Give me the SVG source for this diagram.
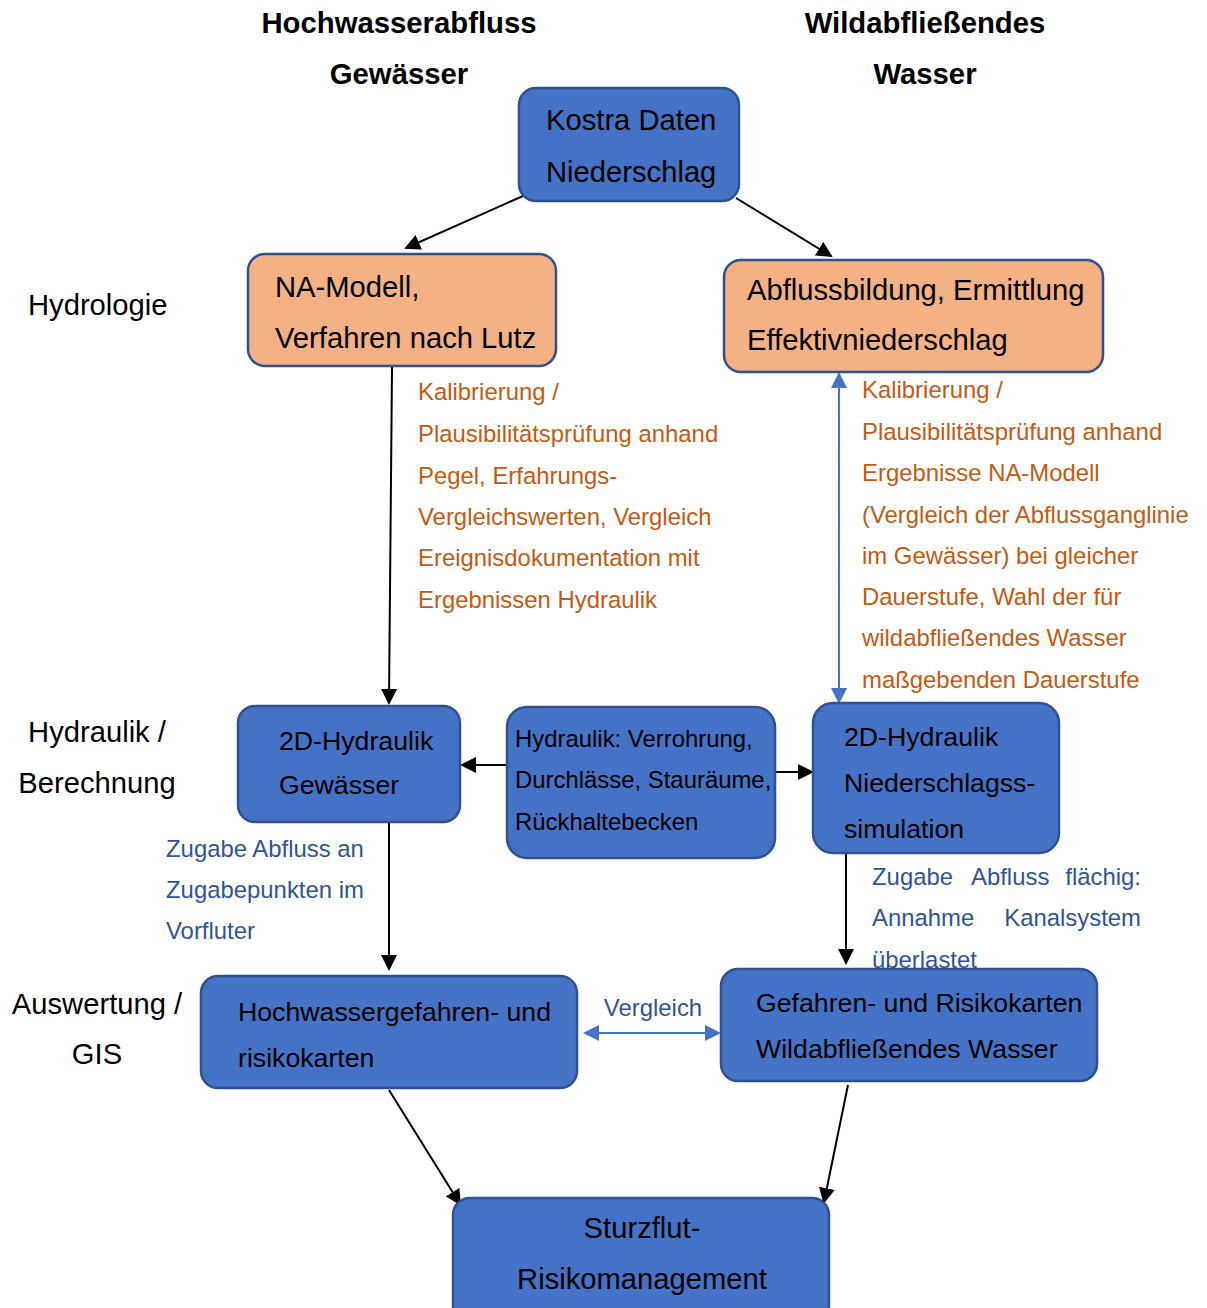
<svg xmlns="http://www.w3.org/2000/svg" width="1207" height="1308" viewBox="0 0 1207 1308">
<style>
text{font-family:"Liberation Sans",Arial,sans-serif;fill:#000}
.box{fill:#4472C4;stroke:#2F528F;stroke-width:2.5}
.obox{fill:#F4B183;stroke:#2F528F;stroke-width:2.5}
.big{font-size:29.2px}
.mid{font-size:26.7px}
.sm{font-size:23.9px}
.hdr{font-size:29.3px;font-weight:bold}
.or{fill:#C55A11;font-size:23.9px}
.bl{fill:#2F5597;font-size:23.9px}
.ln{stroke:#000;stroke-width:2;fill:none}
.bln{stroke:#4472C4;stroke-width:2;fill:none}
</style>
<defs>
<marker id="ah" markerWidth="8" markerHeight="8" refX="7" refY="4" orient="auto" markerUnits="strokeWidth"><path d="M0,0 L8,4 L0,8 Z" fill="#000"/></marker>
<marker id="bh" markerWidth="8" markerHeight="8" refX="7" refY="4" orient="auto-start-reverse" markerUnits="strokeWidth"><path d="M0,0 L8,4 L0,8 Z" fill="#4472C4"/></marker>
</defs>

<g id="labels">
<text class="hdr" x="399" y="33" text-anchor="middle">Hochwasserabfluss</text>
<text class="hdr" x="399" y="84" text-anchor="middle">Gewässer</text>
<text class="hdr" x="925" y="33" text-anchor="middle">Wildabfließendes</text>
<text class="hdr" x="925" y="84" text-anchor="middle">Wasser</text>
<text class="big" x="28" y="315">Hydrologie</text>
<text class="big" x="97" y="742" text-anchor="middle">Hydraulik /</text>
<text class="big" x="97" y="793" text-anchor="middle">Berechnung</text>
<text class="big" x="97" y="1014" text-anchor="middle">Auswertung /</text>
<text class="big" x="97" y="1064" text-anchor="middle">GIS</text>
</g>

<g id="connectors">
<line class="ln" x1="523" y1="196" x2="406" y2="248" marker-end="url(#ah)"/>
<line class="ln" x1="736" y1="198" x2="831" y2="256" marker-end="url(#ah)"/>
<line class="ln" x1="392" y1="367" x2="389" y2="703" marker-end="url(#ah)"/>
<line class="bln" x1="839" y1="374" x2="839" y2="702" marker-start="url(#bh)" marker-end="url(#bh)"/>
<line class="ln" x1="507" y1="765" x2="462" y2="765" marker-end="url(#ah)"/>
<line class="ln" x1="775" y1="772" x2="812" y2="772" marker-end="url(#ah)"/>
<line class="ln" x1="389" y1="823" x2="389" y2="969" marker-end="url(#ah)"/>
<line class="ln" x1="846" y1="854" x2="846" y2="963" marker-end="url(#ah)"/>
<line class="bln" x1="585" y1="1033" x2="719" y2="1033" marker-start="url(#bh)" marker-end="url(#bh)"/>
<line class="ln" x1="389" y1="1090" x2="460" y2="1204" marker-end="url(#ah)"/>
<line class="ln" x1="848" y1="1085" x2="824" y2="1202" marker-end="url(#ah)"/>
</g>

<g id="n-kostra">
<rect class="box" x="519" y="88" width="220" height="113" rx="17"/>
<text class="big" x="546" y="130">Kostra Daten</text>
<text class="big" x="546" y="182">Niederschlag</text>
</g>

<g id="n-na">
<rect class="obox" x="248" y="254" width="308" height="112" rx="17"/>
<text class="big" x="275" y="297">NA-Modell,</text>
<text class="big" x="275" y="348">Verfahren nach Lutz</text>
</g>

<g id="n-abfluss">
<rect class="obox" x="724" y="260" width="379" height="112" rx="17"/>
<text class="big" x="747" y="300">Abflussbildung, Ermittlung</text>
<text class="big" x="747" y="350">Effektivniederschlag</text>
</g>

<g id="t-kal-left">
<text class="or" x="418" y="400">Kalibrierung /</text>
<text class="or" x="418" y="442">Plausibilitätsprüfung anhand</text>
<text class="or" x="418" y="484">Pegel, Erfahrungs-</text>
<text class="or" x="418" y="525">Vergleichswerten, Vergleich</text>
<text class="or" x="418" y="566">Ereignisdokumentation mit</text>
<text class="or" x="418" y="608">Ergebnissen Hydraulik</text>
</g>

<g id="t-kal-right">
<text class="or" x="862" y="398">Kalibrierung /</text>
<text class="or" x="862" y="440">Plausibilitätsprüfung anhand</text>
<text class="or" x="862" y="481">Ergebnisse NA-Modell</text>
<text class="or" x="862" y="523">(Vergleich der Abflussganglinie</text>
<text class="or" x="862" y="564">im Gewässer) bei gleicher</text>
<text class="or" x="862" y="605">Dauerstufe, Wahl der für</text>
<text class="or" x="862" y="646">wildabfließendes Wasser</text>
<text class="or" x="862" y="688">maßgebenden Dauerstufe</text>
</g>

<g id="n-hyd-gew">
<rect class="box" x="238" y="706" width="222" height="116" rx="17"/>
<text class="mid" x="279" y="749.5">2D-Hydraulik</text>
<text class="mid" x="279" y="794">Gewässer</text>
</g>

<g id="n-hyd-mid">
<rect class="box" x="507" y="707" width="268" height="151" rx="20"/>
<text class="sm" x="515" y="746.5">Hydraulik: Verrohrung,</text>
<text class="sm" x="515" y="787.5">Durchlässe, Stauräume,</text>
<text class="sm" x="515" y="829.5">Rückhaltebecken</text>
</g>

<g id="n-hyd-ns">
<rect class="box" x="813" y="703" width="246" height="150" rx="20"/>
<text class="mid" x="844" y="745.5">2D-Hydraulik</text>
<text class="mid" x="844" y="791.5">Niederschlagss-</text>
<text class="mid" x="844" y="837.5">simulation</text>
</g>

<g id="t-zugabe-left">
<text class="bl" x="166" y="856.5">Zugabe Abfluss an</text>
<text class="bl" x="166" y="897.5">Zugabepunkten im</text>
<text class="bl" x="166" y="938.5">Vorfluter</text>
</g>

<g id="t-zugabe-right">
<text class="bl" x="872" y="884.5">Zugabe</text>
<text class="bl" x="971" y="884.5">Abfluss</text>
<text class="bl" x="1141" y="884.5" text-anchor="end">flächig:</text>
<text class="bl" x="872" y="925.5">Annahme</text>
<text class="bl" x="1141" y="925.5" text-anchor="end">Kanalsystem</text>
<text class="bl" x="872" y="967.5">überlastet</text>
</g>

<g id="n-hw-karten">
<rect class="box" x="201" y="976" width="376" height="112" rx="17"/>
<text class="mid" x="238" y="1020.5">Hochwassergefahren- und</text>
<text class="mid" x="238" y="1066.5">risikokarten</text>
</g>

<text class="bl" x="653" y="1015.5" text-anchor="middle">Vergleich</text>

<g id="n-wild-karten">
<rect class="box" x="721" y="969" width="376" height="112" rx="17"/>
<text class="mid" x="756" y="1011.5">Gefahren- und Risikokarten</text>
<text class="mid" x="756" y="1057.5">Wildabfließendes Wasser</text>
</g>

<g id="n-sturzflut">
<rect class="box" x="453" y="1198" width="376" height="125" rx="17"/>
<text class="big" x="642" y="1237.5" text-anchor="middle">Sturzflut-</text>
<text class="big" x="642" y="1288.5" text-anchor="middle">Risikomanagement</text>
</g>
</svg>
